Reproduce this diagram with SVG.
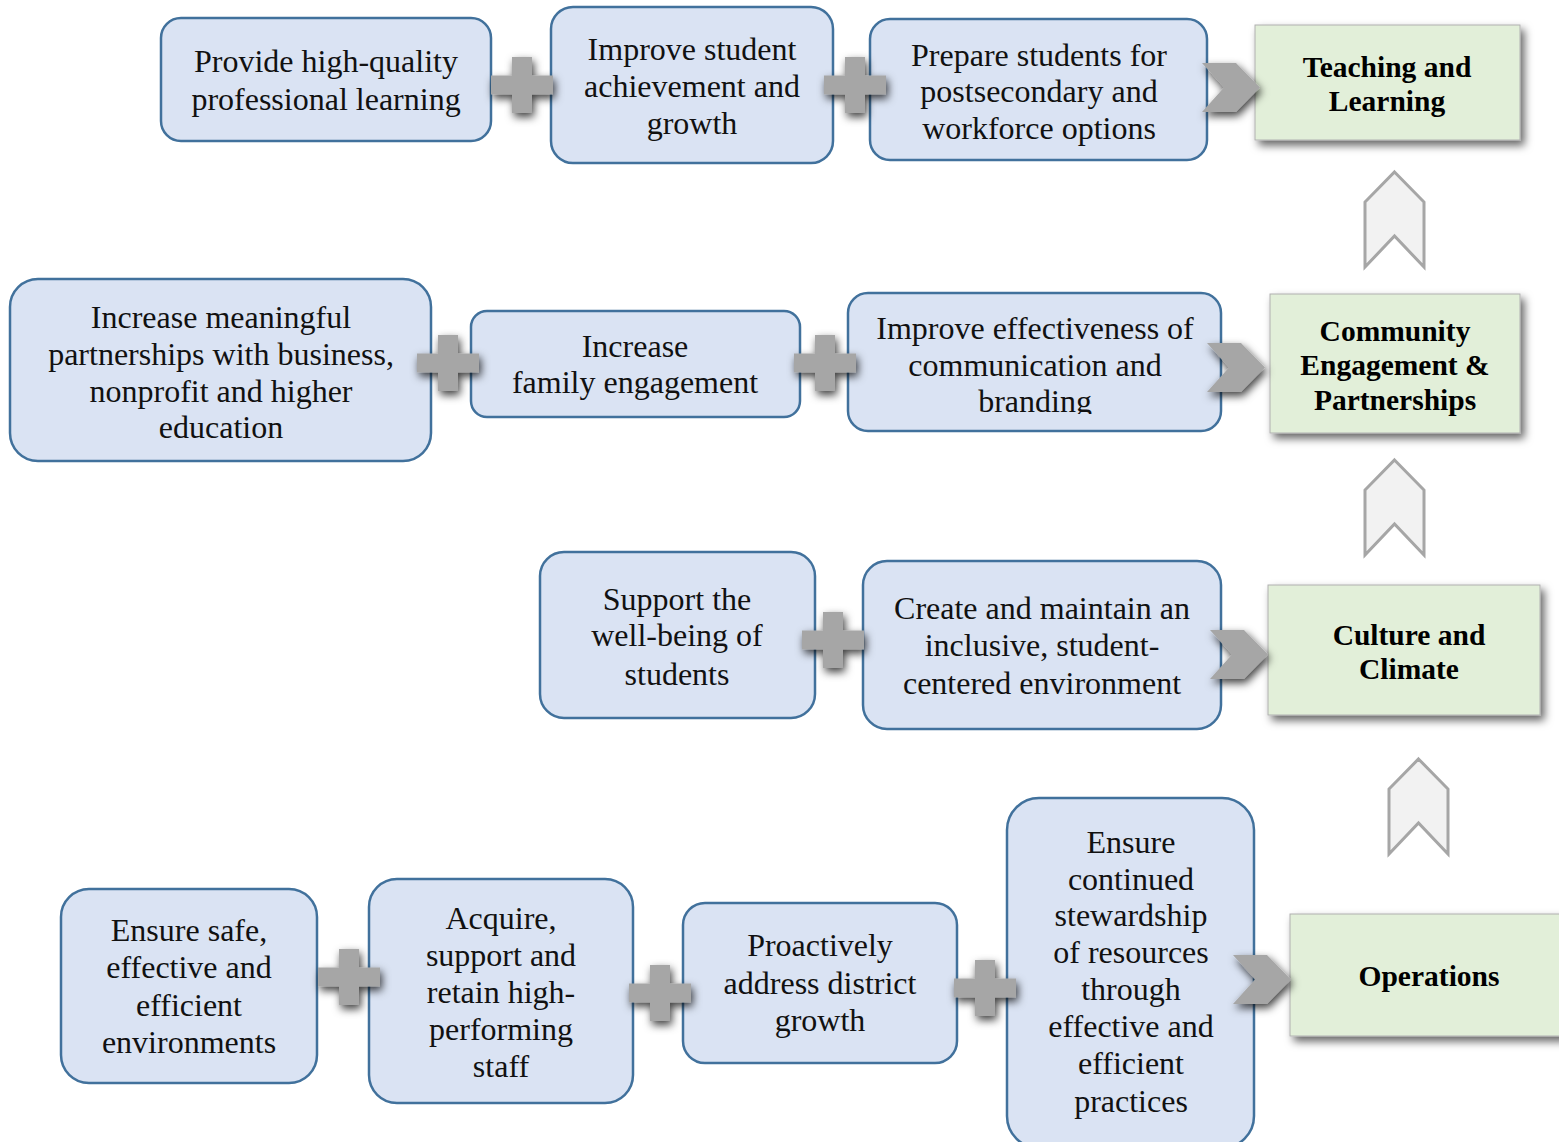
<svg xmlns="http://www.w3.org/2000/svg" width="1559" height="1142" viewBox="0 0 1559 1142">
<defs>
<style>
.box{fill:#dae3f3;stroke:#41719c;stroke-width:2.5}
.goal{fill:#e2efd9;stroke:#b0b0b0;stroke-width:1}
.t{font-family:"Liberation Serif",serif;font-size:32px;fill:#111;text-anchor:middle}
.g{font-family:"Liberation Serif",serif;font-size:29.5px;font-weight:bold;fill:#000;text-anchor:middle}
.plus{fill:#a6a6a6}
.chev{fill:#a6a6a6}
.up{fill:#f2f2f2;stroke:#a6a6a6;stroke-width:3;stroke-linejoin:miter}
</style>
<filter id="sh" x="-40%" y="-40%" width="180%" height="180%">
<feGaussianBlur in="SourceAlpha" stdDeviation="4.5"/>
<feOffset dx="2" dy="4" result="b"/>
<feFlood flood-color="#000" flood-opacity="0.75"/>
<feComposite in2="b" operator="in"/>
<feMerge><feMergeNode/><feMergeNode in="SourceGraphic"/></feMerge>
</filter>
<filter id="gsh" x="-10%" y="-10%" width="125%" height="130%">
<feGaussianBlur in="SourceAlpha" stdDeviation="4"/>
<feOffset dx="4" dy="5" result="b"/>
<feFlood flood-color="#000" flood-opacity="0.6"/>
<feComposite in2="b" operator="in"/>
<feMerge><feMergeNode/><feMergeNode in="SourceGraphic"/></feMerge>
</filter>
<path id="plusShape" d="M-31,-9.5 H-10 V-28 H10 V-9.5 H31 V9.5 H10 V28 H-10 V9.5 H-31 Z"/>
<path id="chevShape" d="M0,0 H34 L58,24.5 L34,49 H0 L22,24.5 Z"/>
<path id="upShape" d="M29.5,0 L59,30 V95 L29.5,64 L0,95 V30 Z"/>
<clipPath id="clipF"><rect x="848" y="293" width="373" height="121"/></clipPath>
</defs>

<g id="node-provide">
<rect class="box" x="161" y="18" width="330" height="123" rx="20"/>
<text class="t" x="326" y="72">Provide high-quality</text>
<text class="t" x="326" y="110">professional learning</text>
</g>
<g id="node-improve-achievement">
<rect class="box" x="551" y="7" width="282" height="156" rx="22"/>
<text class="t" x="692" y="60">Improve student</text>
<text class="t" x="692" y="97">achievement and</text>
<text class="t" x="692" y="134">growth</text>
</g>
<g id="node-prepare">
<rect class="box" x="870" y="19" width="337" height="141" rx="20"/>
<text class="t" x="1039" y="66">Prepare students for</text>
<text class="t" x="1039" y="102">postsecondary and</text>
<text class="t" x="1039" y="139">workforce options</text>
</g>
<g id="node-teaching">
<rect class="goal" x="1255" y="25" width="265" height="115" filter="url(#gsh)"/>
<text class="g" x="1387" y="77">Teaching and</text>
<text class="g" x="1387" y="111">Learning</text>
</g>

<g id="node-partnerships">
<rect class="box" x="10" y="279" width="421" height="182" rx="28"/>
<text class="t" x="221" y="328">Increase meaningful</text>
<text class="t" x="221" y="365">partnerships with business,</text>
<text class="t" x="221" y="402">nonprofit and higher</text>
<text class="t" x="221" y="438">education</text>
</g>
<g id="node-family">
<rect class="box" x="471" y="311" width="329" height="106" rx="16"/>
<text class="t" x="635" y="357">Increase</text>
<text class="t" x="635" y="393">family engagement</text>
</g>
<g id="node-communication">
<rect class="box" x="848" y="293" width="373" height="138" rx="20"/>
<g clip-path="url(#clipF)">
<text class="t" x="1035" y="339">Improve effectiveness of</text>
<text class="t" x="1035" y="376">communication and</text>
<text class="t" x="1035" y="412">branding</text>
</g>
</g>
<g id="node-community">
<rect class="goal" x="1270" y="294" width="250" height="139" filter="url(#gsh)"/>
<text class="g" x="1395" y="341">Community</text>
<text class="g" x="1395" y="375">Engagement &amp;</text>
<text class="g" x="1395" y="410">Partnerships</text>
</g>

<g id="node-wellbeing">
<rect class="box" x="540" y="552" width="275" height="166" rx="24"/>
<text class="t" x="677" y="610">Support the</text>
<text class="t" x="677" y="646">well-being of</text>
<text class="t" x="677" y="685">students</text>
</g>
<g id="node-inclusive">
<rect class="box" x="863" y="561" width="358" height="168" rx="24"/>
<text class="t" x="1042" y="619">Create and maintain an</text>
<text class="t" x="1042" y="656">inclusive, student-</text>
<text class="t" x="1042" y="694">centered environment</text>
</g>
<g id="node-culture">
<rect class="goal" x="1268" y="585" width="272" height="130" filter="url(#gsh)"/>
<text class="g" x="1409" y="645">Culture and</text>
<text class="g" x="1409" y="679">Climate</text>
</g>

<g id="node-safe">
<rect class="box" x="61" y="889" width="256" height="194" rx="28"/>
<text class="t" x="189" y="941">Ensure safe,</text>
<text class="t" x="189" y="978">effective and</text>
<text class="t" x="189" y="1016">efficient</text>
<text class="t" x="189" y="1053">environments</text>
</g>
<g id="node-staff">
<rect class="box" x="369" y="879" width="264" height="224" rx="28"/>
<text class="t" x="501" y="929">Acquire,</text>
<text class="t" x="501" y="966">support and</text>
<text class="t" x="501" y="1003">retain high-</text>
<text class="t" x="501" y="1040">performing</text>
<text class="t" x="501" y="1077">staff</text>
</g>
<g id="node-growth">
<rect class="box" x="683" y="903" width="274" height="160" rx="22"/>
<text class="t" x="820" y="956">Proactively</text>
<text class="t" x="820" y="994">address district</text>
<text class="t" x="820" y="1031">growth</text>
</g>
<g id="node-stewardship">
<rect class="box" x="1007" y="798" width="247" height="350" rx="32"/>
<text class="t" x="1131" y="853">Ensure</text>
<text class="t" x="1131" y="890">continued</text>
<text class="t" x="1131" y="926">stewardship</text>
<text class="t" x="1131" y="963">of resources</text>
<text class="t" x="1131" y="1000">through</text>
<text class="t" x="1131" y="1037">effective and</text>
<text class="t" x="1131" y="1074">efficient</text>
<text class="t" x="1131" y="1112">practices</text>
</g>
<g id="node-operations">
<rect class="goal" x="1290" y="914" width="275" height="122" filter="url(#gsh)"/>
<text class="g" x="1429" y="986">Operations</text>
</g>

<g id="connectors">
<use href="#plusShape" class="plus" x="522" y="85" filter="url(#sh)"/>
<use href="#plusShape" class="plus" x="855" y="85" filter="url(#sh)"/>
<use href="#chevShape" class="chev" x="1202" y="63" filter="url(#sh)"/>
<use href="#upShape" class="up" x="1365" y="172"/>
<use href="#plusShape" class="plus" x="448" y="363" filter="url(#sh)"/>
<use href="#plusShape" class="plus" x="825" y="363" filter="url(#sh)"/>
<use href="#chevShape" class="chev" x="1207" y="343" filter="url(#sh)"/>
<use href="#upShape" class="up" x="1365" y="460"/>
<use href="#plusShape" class="plus" x="833" y="640" filter="url(#sh)"/>
<use href="#chevShape" class="chev" x="1210" y="630" filter="url(#sh)"/>
<use href="#upShape" class="up" x="1389" y="759"/>
<use href="#plusShape" class="plus" x="349" y="977" filter="url(#sh)"/>
<use href="#plusShape" class="plus" x="660" y="993" filter="url(#sh)"/>
<use href="#plusShape" class="plus" x="985" y="988" filter="url(#sh)"/>
<use href="#chevShape" class="chev" x="1233" y="955" filter="url(#sh)"/>
</g>
</svg>
